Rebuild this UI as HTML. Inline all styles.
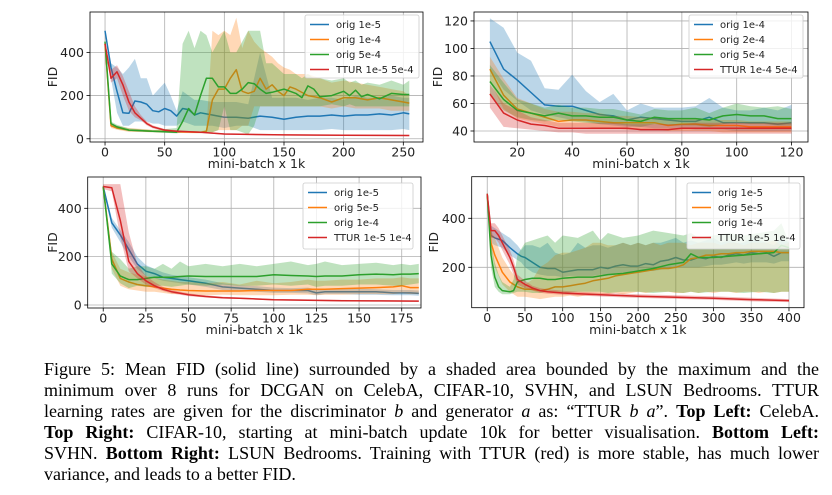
<!DOCTYPE html>
<html><head><meta charset="utf-8"><style>
body{margin:0;background:#fff;width:832px;height:495px;overflow:hidden;position:relative}
svg{position:absolute;left:0;top:0}
.cap{position:absolute;left:44px;width:775px;font-family:"Liberation Serif",serif;font-size:18px;line-height:21px;text-align:justify;text-align-last:justify;white-space:nowrap}
.cap.last{text-align-last:left}
</style></head><body>
<svg id="fig" width="832" height="345"></svg>
<div class="cap" style="top:359px">Figure 5: Mean FID (solid line) surrounded by a shaded area bounded by the maximum and the</div>
<div class="cap" style="top:380px">minimum over 8 runs for DCGAN on CelebA, CIFAR-10, SVHN, and LSUN Bedrooms. TTUR</div>
<div class="cap" style="top:401px">learning rates are given for the discriminator <i>b</i> and generator <i>a</i> as: “TTUR <i>b a</i>”. <b>Top Left:</b> CelebA.</div>
<div class="cap" style="top:422px"><b>Top Right:</b> CIFAR-10, starting at mini-batch update 10k for better visualisation. <b>Bottom Left:</b></div>
<div class="cap" style="top:443px">SVHN. <b>Bottom Right:</b> LSUN Bedrooms. Training with TTUR (red) is more stable, has much lower</div>
<div class="cap last" style="top:464px">variance, and leads to a better FID.</div>
<script>
// ---- Panel 1: CelebA ----
const p1BlueX=[0,5,10,15,20,25,30,35,40,45,50,55,60,65,70,75,80,90,100,110,120,130,140,150,160,170,180,190,200,210,220,230,240,250,255];
const p1BlueY=[500,330,220,120,118,175,170,160,130,125,140,130,105,140,135,110,120,110,100,100,95,105,100,90,100,105,105,110,105,110,110,115,110,120,115];
const p1BlueHi=[500,350,330,300,330,370,280,280,200,230,260,200,130,220,200,180,180,170,170,170,160,400,190,190,190,180,190,190,180,200,190,190,200,190,190];
const p1BlueLo=[500,280,120,60,60,80,80,80,70,70,60,60,60,80,70,60,60,60,50,60,60,40,40,40,40,40,40,45,40,40,40,40,40,45,40];
const p1OrangeX=[0,5,10,20,40,60,80,85,90,95,100,105,110,115,120,125,130,135,140,145,150,155,160,170,180,190,200,210,220,230,240,250,255];
const p1OrangeY=[440,60,50,40,35,32,30,35,180,230,230,280,320,220,210,220,280,230,250,220,200,240,230,200,190,170,190,190,180,190,180,170,165];
const p1OrangeHi=[450,70,60,50,42,38,35,40,500,480,500,480,560,420,500,450,420,400,380,350,330,320,300,300,280,260,270,260,250,240,230,220,200];
const p1OrangeLo=[430,50,42,32,30,27,25,30,30,40,40,40,40,60,60,150,150,150,150,150,150,150,150,150,150,140,150,140,140,140,130,130,130];
const p1GreenX=[0,5,10,20,40,60,65,70,75,80,85,90,95,100,105,110,115,120,125,130,135,140,150,160,165,170,175,180,190,200,205,210,215,220,230,240,250,255];
const p1GreenY=[450,70,55,40,35,30,80,140,110,200,280,280,240,240,210,210,230,260,255,230,210,215,230,210,190,245,230,195,200,220,200,225,195,205,185,210,205,205];
const p1GreenHi=[460,80,65,48,40,50,440,500,420,500,480,400,450,500,400,400,450,500,500,500,350,350,300,300,280,300,280,280,270,280,260,270,250,260,250,270,250,270];
const p1GreenLo=[440,60,45,35,30,25,30,30,30,30,30,30,40,150,40,40,30,20,60,150,150,150,150,150,150,150,150,150,160,150,160,150,150,150,150,150,150,150];
const p1RedX=[0,5,10,15,20,25,30,35,40,50,60,80,100,150,200,255];
const p1RedY=[440,280,310,250,170,120,95,70,55,40,35,30,22,18,16,15];
const p1RedHi=[450,320,340,290,220,150,110,80,62,45,40,33,25,21,19,18];
const p1RedLo=[430,260,280,200,130,100,85,62,48,36,31,27,19,15,13,12];
const p1XTicks=[0,50,100,150,200,250];
const p1YTicks=[0,200,400];
const p1Legend=["orig 1e-5","orig 1e-4","orig 5e-4","TTUR 1e-5 5e-4"];
// ---- Panel 2: CIFAR-10 ----
const p2X=[10,15,20,25,30,35,40,45,50,55,60,65,70,75,80,85,90,95,100,105,110,115,120];
const p2BlueY=[105,85,77,68,59,58,58,55,52,51,48,50,49,48,47,47,50,46,46,46,46,45,46];
const p2BlueHi=[122,115,97,91,71,70,81,69,61,67,55,60,57,57,57,58,64,57,55,55,57,55,59];
const p2BlueLo=[85,70,62,55,52,50,48,47,45,44,43,43,42,42,42,41,41,41,40,40,40,40,40];
const p2OrangeY=[85,66,56,53,50,47,48,48,47,46,46,46,46,44,45,45,44,44,44,43,43,43,43];
const p2OrangeHi=[94,78,64,60,56,54,54,53,53,51,51,50,50,49,49,49,48,48,48,47,47,47,47];
const p2OrangeLo=[76,56,49,47,45,43,43,43,42,42,41,41,41,40,40,40,40,39,39,39,39,39,39];
const p2GreenY=[76,63,55,53,51,53,51,51,50,50,48,47,50,49,49,49,48,51,52,51,51,49,49];
const p2GreenHi=[88,75,63,60,57,59,57,57,56,56,54,52,56,55,55,57,53,57,60,58,57,58,56];
const p2GreenLo=[66,55,50,48,47,48,47,46,45,45,44,43,45,44,44,44,43,45,46,45,45,44,44];
const p2RedY=[67,53,48,45,44,42,42,42,42,42,42,41,41,41,42,42,42,42,42,42,42,42,42];
const p2RedHi=[74,60,55,50,48,46,46,46,46,46,45,45,45,45,45,46,46,46,46,46,46,46,46];
const p2RedLo=[57,43,42,41,40,39,39,38,38,38,38,38,38,38,38,38,38,38,38,38,38,38,38];
const p2XTicks=[20,40,60,80,100,120];
const p2YTicks=[40,60,80,100,120];
const p2Legend=["orig 1e-4","orig 2e-4","orig 5e-4","TTUR 1e-4 5e-4"];
// ---- Panel 3: SVHN ----
const p3X=[0,5,10,15,20,25,30,35,40,45,50,60,70,80,90,100,110,120,125,130,140,150,160,170,175,180,185];
const p3BlueY=[490,340,290,230,170,140,130,115,110,105,100,90,75,70,65,60,60,60,50,55,55,55,55,50,50,50,48];
const p3BlueHi=[500,360,310,260,200,165,150,135,125,120,115,105,90,82,78,72,70,72,65,68,68,68,65,62,62,62,60];
const p3BlueLo=[480,320,260,200,150,120,110,100,95,90,85,75,62,58,55,50,50,48,40,45,45,42,42,40,40,40,38];
const p3OrangeY=[490,190,110,95,85,80,75,70,65,62,60,58,58,58,60,60,60,65,65,65,68,70,72,75,80,72,72];
const p3OrangeHi=[495,220,150,135,125,120,115,105,100,95,95,90,95,85,100,90,95,105,100,100,105,105,110,110,115,110,110];
const p3OrangeLo=[485,150,80,65,60,55,55,50,45,45,45,40,42,40,40,40,42,42,40,42,42,45,45,45,48,45,45];
const p3GreenY=[490,170,120,105,105,110,115,115,115,118,120,118,118,118,118,125,122,120,118,120,120,125,128,125,128,128,130];
const p3GreenHi=[500,220,190,150,160,160,150,170,150,180,160,170,160,170,160,170,180,165,170,180,165,170,175,165,170,165,170];
const p3GreenLo=[480,130,90,70,80,75,80,80,75,80,85,80,85,80,80,85,80,85,75,80,80,85,85,80,80,85,90];
const p3RedX=[0,5,10,15,20,25,30,35,40,50,60,70,80,90,100,120,140,160,185];
const p3RedY=[490,485,350,180,130,100,80,65,55,42,35,30,28,25,22,20,18,17,16];
const p3RedHi=[500,500,500,300,170,120,95,75,62,48,40,34,31,28,25,23,21,20,19];
const p3RedLo=[480,470,280,140,110,85,70,58,48,37,31,27,25,22,19,17,15,14,13];
const p3XTicks=[0,25,50,75,100,125,150,175];
const p3YTicks=[0,200,400];
const p3Legend=["orig 1e-5","orig 5e-5","orig 1e-4","TTUR 1e-5 1e-4"];
// ---- Panel 4: LSUN Bedrooms ----
const p4X=[0,5,10,20,30,40,45,50,60,70,80,90,100,110,120,130,140,150,160,170,180,190,200,210,220,230,240,250,260,270,280,290,300,310,320,330,340,350,360,370,380,390,400];
const p4BlueY=[500,330,320,310,280,255,245,240,220,200,195,195,180,185,190,190,190,200,195,205,210,205,205,215,210,225,230,240,230,230,240,235,245,240,250,255,250,260,255,260,245,260,260];
const p4BlueHi=[500,370,360,340,320,290,270,290,290,280,300,260,250,260,300,280,290,290,280,290,300,290,300,290,300,300,310,320,300,310,300,310,320,300,310,300,300,320,310,300,290,320,300];
const p4BlueLo=[500,300,290,280,250,230,220,200,180,170,165,165,160,165,165,165,165,170,170,175,180,180,180,185,185,190,195,200,200,200,200,205,210,210,215,220,215,220,220,220,215,225,225];
const p4OrangeY=[500,300,250,180,140,120,115,110,110,105,110,120,120,125,130,135,145,150,155,165,170,175,180,185,190,195,195,200,210,235,240,250,250,255,255,260,260,265,265,265,265,260,260];
const p4OrangeHi=[500,350,320,240,190,150,140,130,150,200,220,250,260,260,270,280,300,300,290,290,300,290,300,290,300,290,300,300,300,290,300,300,300,290,300,300,290,300,300,300,310,290,300];
const p4OrangeLo=[500,270,200,130,100,80,80,80,75,70,75,80,80,85,80,85,85,90,90,95,90,95,100,95,100,100,100,95,95,100,95,100,95,100,100,95,100,100,95,100,95,100,100];
const p4GreenX=[0,5,10,15,20,30,35,40,50,60,70,80,90,100,120,140,150,160,180,200,220,240,260,270,280,300,320,340,360,380,390,400];
const p4GreenY=[500,250,160,120,105,100,105,140,150,155,155,150,150,155,160,160,165,170,175,185,195,210,220,255,240,240,245,250,255,260,290,280];
const p4GreenHi=[500,300,220,170,140,120,150,250,300,310,320,330,300,330,320,350,310,340,320,330,350,340,330,340,320,330,340,330,340,350,380,300];
const p4GreenLo=[500,200,120,100,90,90,95,100,100,95,95,100,95,95,100,100,100,95,100,100,95,100,95,100,95,100,100,95,100,95,100,100];
const p4RedX=[0,5,10,15,20,30,35,40,50,60,70,80,100,120,150,200,250,300,350,400];
const p4RedY=[500,350,350,330,300,240,200,150,130,115,105,100,95,92,88,82,78,74,68,64];
const p4RedHi=[500,380,380,360,330,270,230,170,145,125,115,110,104,100,96,90,86,82,76,70];
const p4RedLo=[500,320,320,300,270,210,170,130,115,105,96,92,88,85,81,75,71,67,61,58];
const p4XTicks=[0,50,100,150,200,250,300,350,400];
const p4YTicks=[200,400];
const p4Legend=["orig 1e-5","orig 5e-5","orig 1e-4","TTUR 1e-5 1e-4"];

const NS="http://www.w3.org/2000/svg";
const svg=document.getElementById('fig');
const COLORS=["#1f77b4","#ff7f0e","#2ca02c","#d62728"];
function mk(tag,attrs,parent){const e=document.createElementNS(NS,tag);for(const k in attrs)e.setAttribute(k,attrs[k]);(parent||svg).appendChild(e);return e;}

function panel(id,box,xd,yd,xTicks,yTicks,series,legend,legBox,fidX,xlabY){
  const g=mk('g',{});
  
  
  const sx=v=>box.x0+(v-xd[0])/(xd[1]-xd[0])*(box.x1-box.x0);
  const sy=v=>box.y1-(v-yd[0])/(yd[1]-yd[0])*(box.y1-box.y0);
  const cid='clip-'+id;
  const cp=mk('clipPath',{id:cid},g);mk('rect',{x:box.x0,y:box.y0,width:box.x1-box.x0,height:box.y1-box.y0},cp);
  xTicks.forEach(t=>{const l=mk('line',{x1:sx(t),x2:sx(t),y1:box.y0,y2:box.y1,stroke:'#b0b0b0','stroke-width':0.8},g);
    });
  yTicks.forEach(t=>{const l=mk('line',{x1:box.x0,x2:box.x1,y1:sy(t),y2:sy(t),stroke:'#b0b0b0','stroke-width':0.8},g);
    });
  const pg=mk('g',{'clip-path':'url(#'+cid+')'},g);
  series.forEach((s,i)=>{
    let d='';s.x.forEach((x,j)=>{d+=(j?'L':'M')+sx(x).toFixed(1)+','+sy(s.hi[j]).toFixed(1);});
    for(let j=s.x.length-1;j>=0;j--)d+='L'+sx(s.x[j]).toFixed(1)+','+sy(s.lo[j]).toFixed(1);
    const band=mk('path',{d:d+'Z',fill:COLORS[i],'fill-opacity':0.3,stroke:'none'},pg);
    
    
    const pts=s.x.map((x,j)=>sx(x).toFixed(1)+','+sy(s.y[j]).toFixed(1)).join(' ');
    const ln=mk('polyline',{points:pts,fill:'none',stroke:COLORS[i],'stroke-width':1.5,'stroke-linejoin':'round'},pg);
    
    
  });
  const fr=mk('rect',{x:box.x0,y:box.y0,width:box.x1-box.x0,height:box.y1-box.y0,fill:'none',stroke:'#000','stroke-width':0.8},g);
  
  const tf='font-family:"DejaVu Sans","Liberation Sans",sans-serif;font-size:12.5px;fill:#222';
  xTicks.forEach(t=>{mk('line',{x1:sx(t),x2:sx(t),y1:box.y1,y2:box.y1+3.5,stroke:'#000','stroke-width':0.8},g);
    const tx=mk('text',{x:sx(t),y:box.y1+14.5,'text-anchor':'middle',style:tf},g);tx.textContent=t;
    });
  yTicks.forEach(t=>{mk('line',{x1:box.x0-3.5,x2:box.x0,y1:sy(t),y2:sy(t),stroke:'#000','stroke-width':0.8},g);
    const tx=mk('text',{x:box.x0-6,y:sy(t)+4.5,'text-anchor':'end',style:tf},g);tx.textContent=t;
    });
  const xl=mk('text',{x:(box.x0+box.x1)/2,y:xlabY,'text-anchor':'middle',style:tf},g);xl.textContent='mini-batch x 1k';
  
  const cy=(box.y0+box.y1)/2;
  const yl=mk('text',{x:fidX,y:cy,'text-anchor':'middle',transform:'rotate(-90 '+fidX+' '+cy+')',style:tf},g);yl.textContent='FID';
  
  const lg=mk('g',{},g);
  
  mk('rect',{x:legBox.x,y:legBox.y,width:legBox.w,height:legBox.h,rx:2,fill:'#fff','fill-opacity':0.8,stroke:'#ccc','stroke-width':0.8},lg);
  legend.forEach((lab,i)=>{
    const yy=legBox.y+9.5+i*15;
    const e=mk('g',{},lg);
    
    mk('line',{x1:legBox.x+5,x2:legBox.x+24,y1:yy,y2:yy,stroke:COLORS[i],'stroke-width':1.5},e);
    const t=mk('text',{x:legBox.x+31,y:yy+3.5,style:'font-family:"DejaVu Sans","Liberation Sans",sans-serif;font-size:10px;fill:#222'},e);t.textContent=lab;
  });
}
function S(name,x,y,hi,lo){return {name,x,y,hi,lo};}
panel('panel-celeba',{x0:90,x1:423,y0:12,y1:142},[-12.6,266.5],[-15,587],p1XTicks,p1YTicks,
 [S('orig-1e-5',p1BlueX,p1BlueY,p1BlueHi,p1BlueLo),S('orig-1e-4',p1OrangeX,p1OrangeY,p1OrangeHi,p1OrangeLo),
  S('orig-5e-4',p1GreenX,p1GreenY,p1GreenHi,p1GreenLo),S('ttur',p1RedX,p1RedY,p1RedHi,p1RedLo)],
 p1Legend,{x:305,y:15,w:114,h:63},57,168);
panel('panel-cifar10',{x0:474,x1:808,y0:12,y1:142},[4.2,126],[32,126.5],p2XTicks,p2YTicks,
 [S('orig-1e-4',p2X,p2BlueY,p2BlueHi,p2BlueLo),S('orig-2e-4',p2X,p2OrangeY,p2OrangeHi,p2OrangeLo),
  S('orig-5e-4',p2X,p2GreenY,p2GreenHi,p2GreenLo),S('ttur',p2X,p2RedY,p2RedHi,p2RedLo)],
 p2Legend,{x:689,y:15,w:114,h:63},442,168);
panel('panel-svhn',{x0:87.7,x1:421,y0:177,y1:308},[-9.1,186.3],[-12.4,529.5],p3XTicks,p3YTicks,
 [S('orig-1e-5',p3X,p3BlueY,p3BlueHi,p3BlueLo),S('orig-5e-5',p3X,p3OrangeY,p3OrangeHi,p3OrangeLo),
  S('orig-1e-4',p3X,p3GreenY,p3GreenHi,p3GreenLo),S('ttur',p3RedX,p3RedY,p3RedHi,p3RedLo)],
 p3Legend,{x:303,y:183,w:110,h:66},57,334);
panel('panel-lsun',{x0:471.7,x1:804,y0:176.7,y1:307.7},[-20.6,419.9],[35.1,569.8],p4XTicks,p4YTicks,
 [S('orig-1e-5',p4X,p4BlueY,p4BlueHi,p4BlueLo),S('orig-5e-5',p4X,p4OrangeY,p4OrangeHi,p4OrangeLo),
  S('orig-1e-4',p4GreenX,p4GreenY,p4GreenHi,p4GreenLo),S('ttur',p4RedX,p4RedY,p4RedHi,p4RedLo)],
 p4Legend,{x:687,y:183,w:113,h:66},438,334);
</script>
</body></html>
